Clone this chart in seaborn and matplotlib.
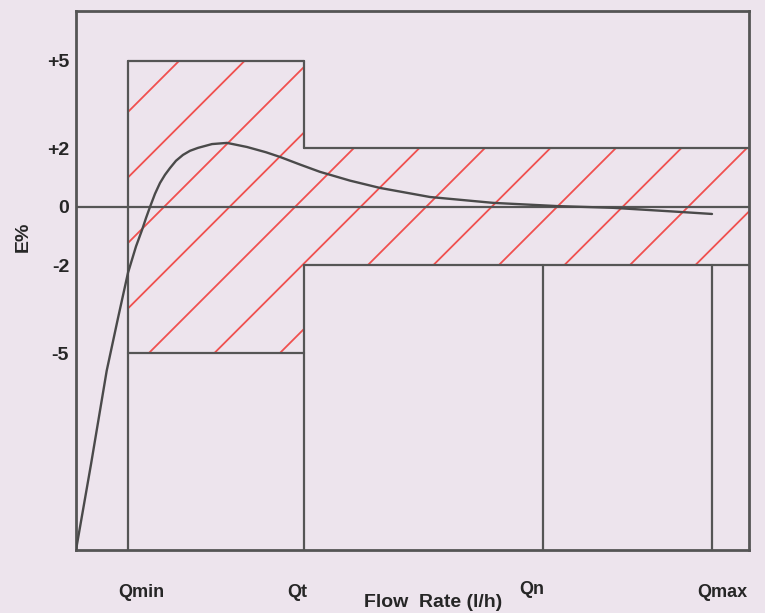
import numpy as np
import pandas as pd
import seaborn as sns
import matplotlib.pyplot as plt
from matplotlib.patches import Polygon

bg = '#ede4ed'
sns.set_style('white', {'axes.facecolor': bg, 'figure.facecolor': bg})
plt.rcParams['font.family'] = ['Liberation Sans', 'DejaVu Sans']

# flow rate marks (x) and error limits (y)
q_names = ['Qmin', 'Qt', 'Qn', 'Qmax']
q_pos = [51.5, 228, 467, 636]
x_end = 673
y_lo, y_hi = -11.73, 6.7
outer_limit = 5     # Qmin..Qt
inner_limit = 2     # Qt..end
y_ticks = [5, 2, 0, -2, -5]
y_tick_labels = ['+5', '+2', '0', '-2', '-5']

# typical meter error curve
flow = [0, 15, 30.7, 42, 52, 60, 66, 70, 74, 79, 84, 89, 94, 100, 107, 114,
        122, 136, 151, 171, 190, 204, 224, 244, 274, 304, 354, 417, 481,
        537, 604, 636]
error = [-11.73, -8.8, -5.6, -3.8, -2.25, -1.35, -0.79, -0.38, 0.0, 0.45,
         0.82, 1.1, 1.33, 1.58, 1.78, 1.92, 2.02, 2.15, 2.19, 2.05, 1.87,
         1.71, 1.45, 1.20, 0.90, 0.65, 0.34, 0.14, 0.03, -0.03, -0.17, -0.24]

df = pd.DataFrame({'flow': flow, 'error': error})

fig = plt.figure(figsize=(7.65, 6.13), dpi=100)
ax = fig.add_axes([76 / 765, 1 - 550 / 613, (749 - 76) / 765, (550 - 11) / 613])
ax.set_xlim(0, x_end)
ax.set_ylim(y_lo, y_hi)

dark = '#555555'
qmin, qt, qn, qmax = q_pos

# hatched tolerance zone
zone = Polygon([(qmin, -outer_limit), (qmin, outer_limit), (qt, outer_limit),
                (qt, inner_limit), (x_end, inner_limit), (x_end, -inner_limit),
                (qt, -inner_limit), (qt, -outer_limit)],
               closed=True, facecolor='none', edgecolor='none')
ax.add_patch(zone)

# 45 degree hatch lines in screen space
k = (ax.bbox.height / (y_hi - y_lo)) / (ax.bbox.width / x_end)
ys = np.array([-outer_limit - 1, outer_limit + 1])
for n in range(-2, 15):
    b = -43 + 65.5 * n
    ln, = ax.plot(k * ys + b, ys, color='#f0504f', lw=1.3, zorder=2)
    ln.set_clip_path(zone)

# box outlines
lw = 1.6
ax.axhline(0, color=dark, lw=lw, zorder=3)
ax.plot([qmin, qmin], [y_lo, outer_limit], color=dark, lw=lw, zorder=3)
ax.plot([qmin, qt], [outer_limit, outer_limit], color=dark, lw=lw, zorder=3)
ax.plot([qmin, qt], [-outer_limit, -outer_limit], color=dark, lw=lw, zorder=3)
ax.plot([qt, qt], [inner_limit, outer_limit], color=dark, lw=lw, zorder=3)
ax.plot([qt, qt], [y_lo, -inner_limit], color=dark, lw=lw, zorder=3)
ax.plot([qt, x_end], [inner_limit, inner_limit], color=dark, lw=lw, zorder=3)
ax.plot([qt, x_end], [-inner_limit, -inner_limit], color=dark, lw=lw, zorder=3)
for q in [qn, qmax]:
    ax.plot([q, q], [y_lo, -inner_limit], color=dark, lw=lw, zorder=3)

sns.lineplot(data=df, x='flow', y='error', color='#4a4a4a', lw=1.7, ax=ax,
             zorder=4, sort=False)

for s in ax.spines.values():
    s.set_color(dark)
    s.set_linewidth(2)

ax.set_xticks([])
ax.set_yticks(y_ticks)
ax.set_yticklabels(y_tick_labels, fontsize=14, fontweight='bold')
ax.tick_params(axis='y', length=0, pad=5)
ax.set_xlabel('')
ax.set_ylabel('')

# x labels under the axis
label_dx = [14, -7, -11, 10]
label_dy = [-1.45, -1.45, -1.35, -1.45]
for name, q, dx, dy in zip(q_names, q_pos, label_dx, label_dy):
    ax.text(q + dx, y_lo + dy, name, ha='center', va='center',
            fontsize=13, fontweight='bold')
ax.text(357, y_lo - 1.8, 'Flow  Rate (l/h)', ha='center', va='center',
        fontsize=14, fontweight='bold', clip_on=False)
ax.text(-53, -1.03, 'E%', rotation=90, ha='center', va='center',
        fontsize=14, fontweight='bold')

fig.savefig('out.png', dpi=100, facecolor=bg)
